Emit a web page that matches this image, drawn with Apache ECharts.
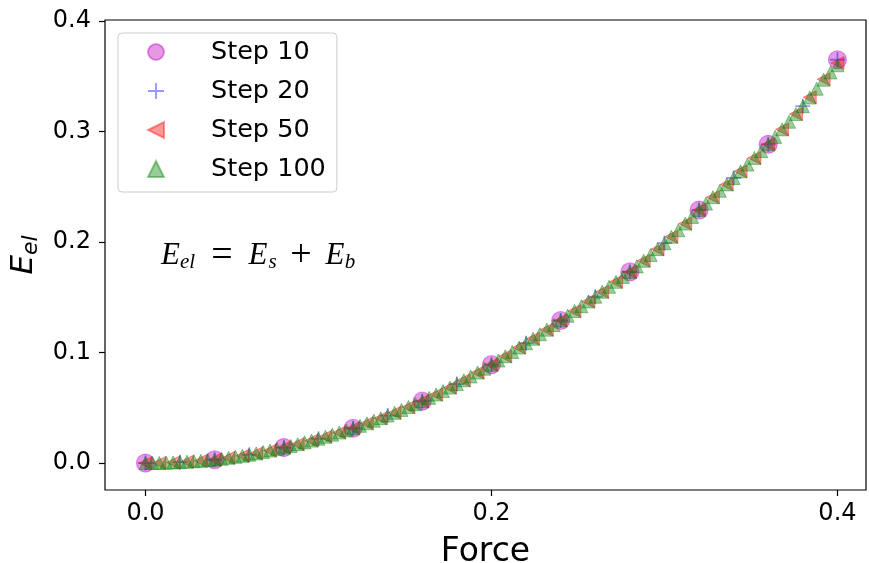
<!DOCTYPE html>
<html>
<head>
<meta charset="utf-8">
<script src="https://cdn.jsdelivr.net/npm/echarts@6/dist/echarts.min.js"></script>
<style>
html,body{margin:0;padding:0;background:#fff;}
#chart{width:869px;height:563px;}
</style>
</head>
<body>
<div id="chart"></div>
<script>
// ---------- data ----------
const force10 = [0, 0.04, 0.08, 0.12, 0.16, 0.2, 0.24, 0.28, 0.32, 0.36, 0.4];
const energy10 = [0, 0.003, 0.014, 0.0315, 0.056, 0.089, 0.129, 0.173, 0.229, 0.2885, 0.365];

const force20 = [0, 0.02, 0.04, 0.06, 0.08, 0.1, 0.12, 0.14, 0.16, 0.18, 0.2, 0.22, 0.24, 0.26, 0.28, 0.3, 0.32, 0.34, 0.36, 0.38, 0.4];
const energy20 = [0, 0.0008, 0.003, 0.0075, 0.014, 0.022, 0.0315, 0.043, 0.056, 0.0715, 0.089, 0.1085, 0.129, 0.1505, 0.173, 0.199, 0.229, 0.258, 0.2885, 0.323, 0.365];

const force50 = [0, 0.008, 0.016, 0.024, 0.032, 0.04, 0.048, 0.056, 0.064, 0.072, 0.08, 0.088, 0.096, 0.104, 0.112, 0.12, 0.128, 0.136, 0.144, 0.152, 0.16, 0.168, 0.176, 0.184, 0.192, 0.2, 0.208, 0.216, 0.224, 0.232, 0.24, 0.248, 0.256, 0.264, 0.272, 0.28, 0.288, 0.296, 0.304, 0.312, 0.32, 0.328, 0.336, 0.344, 0.352, 0.36, 0.368, 0.376, 0.384, 0.392, 0.4];
const energy50 = [0, 0.0001, 0.0005, 0.0012, 0.002, 0.003, 0.0047, 0.0065, 0.0087, 0.0113, 0.014, 0.0171, 0.0203, 0.0238, 0.0276, 0.0315, 0.036, 0.0406, 0.0455, 0.0507, 0.056, 0.062, 0.0683, 0.0749, 0.0819, 0.089, 0.0967, 0.1045, 0.1125, 0.1207, 0.129, 0.1376, 0.1462, 0.155, 0.164, 0.173, 0.1831, 0.1936, 0.2048, 0.2167, 0.229, 0.2406, 0.2522, 0.264, 0.2762, 0.2885, 0.302, 0.3159, 0.331, 0.3474, 0.362];

const force100 = [0, 0.004, 0.008, 0.012, 0.016, 0.02, 0.024, 0.028, 0.032, 0.036, 0.04, 0.044, 0.048, 0.052, 0.056, 0.06, 0.064, 0.068, 0.072, 0.076, 0.08, 0.084, 0.088, 0.092, 0.096, 0.1, 0.104, 0.108, 0.112, 0.116, 0.12, 0.124, 0.128, 0.132, 0.136, 0.14, 0.144, 0.148, 0.152, 0.156, 0.16, 0.164, 0.168, 0.172, 0.176, 0.18, 0.184, 0.188, 0.192, 0.196, 0.2, 0.204, 0.208, 0.212, 0.216, 0.22, 0.224, 0.228, 0.232, 0.236, 0.24, 0.244, 0.248, 0.252, 0.256, 0.26, 0.264, 0.268, 0.272, 0.276, 0.28, 0.284, 0.288, 0.292, 0.296, 0.3, 0.304, 0.308, 0.312, 0.316, 0.32, 0.324, 0.328, 0.332, 0.336, 0.34, 0.344, 0.348, 0.352, 0.356, 0.36, 0.364, 0.368, 0.372, 0.376, 0.38, 0.384, 0.388, 0.392, 0.396, 0.4];
const energy100 = [0, 0.0000, 0.0001, 0.0003, 0.0005, 0.0008, 0.0012, 0.0016, 0.002, 0.0025, 0.003, 0.0038, 0.0047, 0.0056, 0.0065, 0.0075, 0.0087, 0.01, 0.0113, 0.0126, 0.014, 0.0155, 0.0171, 0.0187, 0.0203, 0.022, 0.0238, 0.0257, 0.0276, 0.0295, 0.0315, 0.0337, 0.036, 0.0383, 0.0406, 0.043, 0.0455, 0.0481, 0.0507, 0.0533, 0.056, 0.059, 0.062, 0.0651, 0.0683, 0.0715, 0.0749, 0.0784, 0.0819, 0.0854, 0.089, 0.0928, 0.0967, 0.1006, 0.1045, 0.1085, 0.1125, 0.1166, 0.1207, 0.1248, 0.129, 0.1333, 0.1376, 0.1419, 0.1462, 0.1505, 0.155, 0.1595, 0.164, 0.1685, 0.173, 0.178, 0.1831, 0.1883, 0.1936, 0.199, 0.2048, 0.2107, 0.2167, 0.2228, 0.229, 0.2348, 0.2406, 0.2464, 0.2522, 0.258, 0.264, 0.2701, 0.2762, 0.2823, 0.2885, 0.2952, 0.302, 0.3089, 0.3159, 0.323, 0.3308, 0.3388, 0.347, 0.3535, 0.36];

const seriesNames = ['Step 10', 'Step 20', 'Step 50', 'Step 100'];
const xTicks = [0, 0.2, 0.4];
const yTicks = [0, 0.1, 0.2, 0.3, 0.4];

// ---------- chart ----------
function pairs(xs, ys) { return xs.map((x, i) => [x, ys[i]]); }

const plusPath = 'path://M4.4,0H5.6V4.4H10V5.6H5.6V10H4.4V5.6H0V4.4H4.4Z';
const leftTriPath = 'path://M0,5L10,0L10,10Z';
const FONT = 'DejaVu Sans';
const SERIF = 'Liberation Serif';

const chart = echarts.init(document.getElementById('chart'), null, {renderer: 'canvas'});
const option = {
  animation: false,
  backgroundColor: '#ffffff',
  grid: {left: 105, right: 3, top: 20, bottom: 73, containLabel: false, outerBoundsMode: 'none',
         show: true, borderColor: '#000', borderWidth: 1.2, backgroundColor: 'transparent'},
  xAxis: {
    type: 'value', min: -0.0234, max: 0.4165,
    splitLine: {show: false},
    axisLine: {show: false, onZero: false},
    axisTick: {show: true, inside: false, length: 6, lineStyle: {color: '#000', width: 1.2}, customValues: xTicks},
    axisLabel: {show: true, customValues: xTicks, formatter: v => v.toFixed(1), color: '#000', fontFamily: FONT, fontSize: 24, margin: 12},
    name: 'Force', nameLocation: 'middle', nameGap: 46,
    nameTextStyle: {fontFamily: FONT, fontSize: 33, color: '#000'}
  },
  yAxis: {
    type: 'value', min: -0.0244, max: 0.401,
    splitLine: {show: false},
    axisLine: {show: false, onZero: false},
    axisTick: {show: true, inside: false, length: 6, lineStyle: {color: '#000', width: 1.2}, customValues: yTicks},
    axisLabel: {show: true, customValues: yTicks, formatter: v => v.toFixed(1), color: '#000', fontFamily: FONT, fontSize: 24, margin: 14},
    name: '{e|E}{s|el}', nameLocation: 'middle', nameGap: 58, nameRotate: 90,
    nameTextStyle: {
      color: '#000',
      rich: {
        e: {fontFamily: FONT, fontStyle: 'italic', fontSize: 31, color: '#000', lineHeight: 36, verticalAlign: 'middle'},
        s: {fontFamily: FONT, fontStyle: 'italic', fontSize: 22, color: '#000', lineHeight: 22, verticalAlign: 'bottom'}
      }
    }
  },
  legend: {
    show: true, orient: 'vertical', left: 118, top: 33,
    data: [
      {name: seriesNames[0]},
      {name: seriesNames[1]},
      {name: seriesNames[2], icon: leftTriPath},
      {name: seriesNames[3]}
    ],
    itemWidth: 16, itemHeight: 16, itemGap: 9,
    padding: [4, 11, 8, 29],
    backgroundColor: 'rgba(255,255,255,0.85)',
    borderColor: '#cccccc', borderWidth: 1, borderRadius: 4,
    textStyle: {fontFamily: FONT, fontSize: 25.5, color: '#000', lineHeight: 30, padding: [0, 0, 0, 42]}
  },
  graphic: [{
    type: 'text', left: 161, top: 237, z: 100,
    style: {
      text: '{e1|E}{s1|el}{eq|=}{e2|E}{s2|s}{pl|+}{e3|E}{s3|b}',
      rich: {
        e1: {fontFamily: SERIF, fontStyle: 'italic', fontSize: 31, color: '#000', lineHeight: 34, verticalAlign: 'middle', width: 19},
        s1: {fontFamily: SERIF, fontStyle: 'italic', fontSize: 21, color: '#000', lineHeight: 21, verticalAlign: 'bottom', width: 16},
        eq: {fontFamily: SERIF, fontSize: 38, color: '#000', lineHeight: 34, verticalAlign: 'middle', width: 52, align: 'center'},
        e2: {fontFamily: SERIF, fontStyle: 'italic', fontSize: 31, color: '#000', lineHeight: 34, verticalAlign: 'middle', width: 20},
        s2: {fontFamily: SERIF, fontStyle: 'italic', fontSize: 21, color: '#000', lineHeight: 21, verticalAlign: 'bottom', width: 9},
        pl: {fontFamily: SERIF, fontSize: 38, color: '#000', lineHeight: 34, verticalAlign: 'middle', width: 48, align: 'center'},
        e3: {fontFamily: SERIF, fontStyle: 'italic', fontSize: 31, color: '#000', lineHeight: 34, verticalAlign: 'middle', width: 20},
        s3: {fontFamily: SERIF, fontStyle: 'italic', fontSize: 21, color: '#000', lineHeight: 21, verticalAlign: 'bottom', width: 10}
      }
    }
  }],
  series: [
    {
      name: 'Step 10', type: 'scatter', data: pairs(force10, energy10),
      symbol: 'circle', symbolSize: 18,
      itemStyle: {color: 'rgba(191,0,191,0.5)', borderColor: 'rgba(191,0,191,0.5)', borderWidth: 1.2},
      z: 2
    },
    {
      name: 'Step 20', type: 'scatter', data: pairs(force20, energy20),
      symbol: plusPath, symbolSize: 15,
      itemStyle: {color: 'rgba(0,0,255,0.5)'},
      z: 3
    },
    {
      name: 'Step 50', type: 'scatter', data: pairs(force50, energy50),
      symbol: leftTriPath, symbolSize: 13,
      itemStyle: {color: 'rgba(255,0,0,0.5)', borderColor: 'rgba(255,0,0,0.5)', borderWidth: 1},
      z: 4
    },
    {
      name: 'Step 100', type: 'scatter', data: pairs(force100, energy100),
      symbol: 'triangle', symbolSize: 13,
      itemStyle: {color: 'rgba(0,128,0,0.5)', borderColor: 'rgba(0,128,0,0.5)', borderWidth: 1},
      z: 5
    }
  ]
};
chart.setOption(option);
</script>
</body>
</html>
